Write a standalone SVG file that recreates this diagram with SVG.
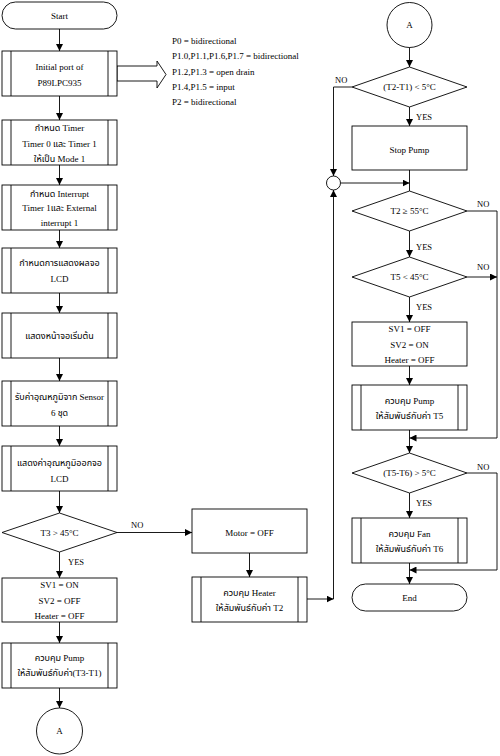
<svg xmlns="http://www.w3.org/2000/svg" width="500" height="756" viewBox="0 0 500 756">
<style>
.s{fill:#fff;stroke:#000;stroke-width:0.9}
.l{fill:none;stroke:#000;stroke-width:0.9}
.t{font-family:"Liberation Serif","Noto Sans Thai","Noto Serif Thai","DejaVu Sans",serif;font-size:9px;fill:#000;text-anchor:middle;dominant-baseline:central}
.p{font-family:"Liberation Serif","DejaVu Serif",serif;font-size:9px;fill:#000}
.lb{font-family:"Liberation Serif",serif;font-size:8.5px;fill:#000}
</style>
<defs>
<marker id="ah" viewBox="0 0 10 10" refX="10" refY="5" markerWidth="7" markerHeight="7" markerUnits="userSpaceOnUse" orient="auto">
<path d="M0,0 L10,5 L0,10 z" fill="#000"/>
</marker>
</defs>
<rect width="500" height="756" fill="#fff"/>

<g id="connectors">
<path class="l" d="M59.5,29 V51" marker-end="url(#ah)"/>
<path class="l" d="M59.5,96 V120" marker-end="url(#ah)"/>
<path class="l" d="M59.5,165 V185" marker-end="url(#ah)"/>
<path class="l" d="M59.5,230 V248" marker-end="url(#ah)"/>
<path class="l" d="M59.5,293 V313" marker-end="url(#ah)"/>
<path class="l" d="M59.5,358 V381" marker-end="url(#ah)"/>
<path class="l" d="M59.5,426 V446" marker-end="url(#ah)"/>
<path class="l" d="M59.5,491 V513" marker-end="url(#ah)"/>
<path class="l" d="M59.5,552 V578" marker-end="url(#ah)"/>
<path class="l" d="M59.5,622 V643" marker-end="url(#ah)"/>
<path class="l" d="M59.5,688 V708" marker-end="url(#ah)"/>
<path class="l" d="M117,532.5 H192" marker-end="url(#ah)"/>
<path class="l" d="M249.5,553 V577" marker-end="url(#ah)"/>
<path class="l" d="M307,599 H333.5" marker-end="url(#ah)"/>
<path class="l" d="M333.5,599 V190" marker-end="url(#ah)"/>
<path class="l" d="M352,87 H333.5 V176" marker-end="url(#ah)"/>
<path class="l" d="M341,183 H409.5" marker-end="url(#ah)"/>
<path class="l" d="M409.5,47 V67" marker-end="url(#ah)"/>
<path class="l" d="M409.5,107 V126" marker-end="url(#ah)"/>
<path class="l" d="M409.5,170 V191"/>
<path class="l" d="M409.5,231 V257" marker-end="url(#ah)"/>
<path class="l" d="M409.5,297 V322" marker-end="url(#ah)"/>
<path class="l" d="M409.5,366 V385" marker-end="url(#ah)"/>
<path class="l" d="M409.5,430 V453" marker-end="url(#ah)"/>
<path class="l" d="M467,211 H497 V438 H409.5" marker-end="url(#ah)"/>
<path class="l" d="M467,277 H497" marker-end="url(#ah)"/>
<path class="l" d="M409.5,493 V518" marker-end="url(#ah)"/>
<path class="l" d="M467,473 H497 V570 H409.5" marker-end="url(#ah)"/>
<path class="l" d="M409.5,563 V584" marker-end="url(#ah)"/>
<path class="s" d="M117,66 H157 V61 L166,74.5 L157,88 V81 H117 z"/>
<text class="lb" x="131" y="528">NO</text>
<text class="lb" x="68" y="565">YES</text>
<text class="lb" x="335" y="83">NO</text>
<text class="lb" x="416" y="120">YES</text>
<text class="lb" x="477" y="207">NO</text>
<text class="lb" x="416" y="250">YES</text>
<text class="lb" x="477" y="270">NO</text>
<text class="lb" x="416" y="310">YES</text>
<text class="lb" x="477" y="470">NO</text>
<text class="lb" x="416" y="506">YES</text>
</g>

<g id="portinfo">
<text class="p" x="172" y="44">P0 = bidirectional</text>
<text class="p" x="172" y="59">P1.0,P1.1,P1.6,P1.7 = bidirectional</text>
<text class="p" x="172" y="75">P1.2,P1.3 = open drain</text>
<text class="p" x="172" y="90">P1.4,P1.5 = input</text>
<text class="p" x="172" y="105">P2 = bidirectional</text>
</g>

<g id="start">
<rect class="s" x="2" y="2" width="115" height="27" rx="13.5"/>
<text class="t" x="59.5" y="16">Start</text>
</g>
<g id="initport">
<rect class="s" x="2" y="51" width="115" height="45"/>
<path class="l" d="M11,51 V96 M108,51 V96"/>
<text class="t" x="59.5" y="67">Initial port of</text>
<text class="t" x="59.5" y="83">P89LPC935</text>
</g>
<g id="timer">
<rect class="s" x="2" y="120" width="115" height="45"/>
<path class="l" d="M11,120 V165 M108,120 V165"/>
<text class="t" x="59.5" y="128">กำหนด Timer</text>
<text class="t" x="59.5" y="144">Timer 0 และ Timer 1</text>
<text class="t" x="59.5" y="159">ให้เป็น Mode 1</text>
</g>
<g id="interrupt">
<rect class="s" x="2" y="185" width="115" height="45"/>
<path class="l" d="M11,185 V230 M108,185 V230"/>
<text class="t" x="59.5" y="194">กำหนด Interrupt</text>
<text class="t" x="59.5" y="208">Timer 1และ External</text>
<text class="t" x="59.5" y="223">interrupt 1</text>
</g>
<g id="lcdset">
<rect class="s" x="2" y="248" width="115" height="45"/>
<path class="l" d="M11,248 V293 M108,248 V293"/>
<text class="t" x="59.5" y="263">กำหนดการแสดงผลจอ</text>
<text class="t" x="59.5" y="279">LCD</text>
</g>
<g id="startscreen">
<rect class="s" x="2" y="313" width="115" height="45"/>
<path class="l" d="M11,313 V358 M108,313 V358"/>
<text class="t" x="59.5" y="336">แสดงหน้าจอเริ่มต้น</text>
</g>
<g id="sensor">
<rect class="s" x="2" y="381" width="115" height="45"/>
<path class="l" d="M11,381 V426 M108,381 V426"/>
<text class="t" x="59.5" y="397">รับค่าอุณหภูมิจาก Sensor</text>
<text class="t" x="59.5" y="413">6 ชุด</text>
</g>
<g id="display">
<rect class="s" x="2" y="446" width="115" height="45"/>
<path class="l" d="M11,446 V491 M108,446 V491"/>
<text class="t" x="59.5" y="463">แสดงค่าอุณหภูมิออกจอ</text>
<text class="t" x="59.5" y="479">LCD</text>
</g>
<g id="t3check">
<path class="s" d="M59.5,513 L117,532.5 L59.5,552 L2,532.5 z"/>
<text class="t" x="59.5" y="533">T3 &gt; 45°C</text>
</g>
<g id="sv-on">
<rect class="s" x="2" y="578" width="115" height="44"/>
<text class="t" x="59.5" y="585">SV1 = ON</text>
<text class="t" x="59.5" y="601">SV2 = OFF</text>
<text class="t" x="59.5" y="616">Heater = OFF</text>
</g>
<g id="pump1">
<rect class="s" x="2" y="643" width="115" height="45"/>
<path class="l" d="M11,643 V688 M108,643 V688"/>
<text class="t" x="59.5" y="658">ควบคุม Pump</text>
<text class="t" x="59.5" y="673">ให้สัมพันธ์กับค่า(T3-T1)</text>
</g>
<g id="connA1">
<circle class="s" cx="59.5" cy="731" r="23"/>
<text class="t" x="59.5" y="731">A</text>
</g>
<g id="motor">
<rect class="s" x="192" y="509" width="115" height="44"/>
<text class="t" x="249.5" y="533">Motor = OFF</text>
</g>
<g id="heater">
<rect class="s" x="192" y="577" width="115" height="45"/>
<path class="l" d="M201,577 V622 M298,577 V622"/>
<text class="t" x="249.5" y="593">ควบคุม Heater</text>
<text class="t" x="249.5" y="608">ให้สัมพันธ์กับค่า T2</text>
</g>
<g id="connA2">
<circle class="s" cx="409.5" cy="25" r="22.5"/>
<text class="t" x="409.5" y="25">A</text>
</g>
<g id="t2t1check">
<path class="s" d="M409.5,67 L467,87 L409.5,107 L352,87 z"/>
<text class="t" x="409.5" y="87">(T2-T1) &lt; 5°C</text>
</g>
<g id="stoppump">
<rect class="s" x="352" y="126" width="115" height="44"/>
<text class="t" x="409.5" y="150">Stop Pump</text>
</g>
<g id="merge">
<circle class="s" cx="333.5" cy="183" r="7"/>
</g>
<g id="t2check">
<path class="s" d="M409.5,191 L467,211 L409.5,231 L352,211 z"/>
<text class="t" x="409.5" y="211">T2 ≥ 55°C</text>
</g>
<g id="t5check">
<path class="s" d="M409.5,257 L467,277 L409.5,297 L352,277 z"/>
<text class="t" x="409.5" y="277">T5 &lt; 45°C</text>
</g>
<g id="sv-off">
<rect class="s" x="352" y="322" width="115" height="44"/>
<text class="t" x="409.5" y="329">SV1 = OFF</text>
<text class="t" x="409.5" y="345">SV2 = ON</text>
<text class="t" x="409.5" y="360">Heater = OFF</text>
</g>
<g id="pump2">
<rect class="s" x="352" y="385" width="115" height="45"/>
<path class="l" d="M361,385 V430 M458,385 V430"/>
<text class="t" x="409.5" y="401">ควบคุม Pump</text>
<text class="t" x="409.5" y="416">ให้สัมพันธ์กับค่า T5</text>
</g>
<g id="t5t6check">
<path class="s" d="M409.5,453 L467,473 L409.5,493 L352,473 z"/>
<text class="t" x="409.5" y="473">(T5-T6) &gt; 5°C</text>
</g>
<g id="fan">
<rect class="s" x="352" y="518" width="115" height="45"/>
<path class="l" d="M361,518 V563 M458,518 V563"/>
<text class="t" x="409.5" y="534">ควบคุม Fan</text>
<text class="t" x="409.5" y="549">ให้สัมพันธ์กับค่า T6</text>
</g>
<g id="end">
<rect class="s" x="352" y="584" width="115" height="27" rx="13.5"/>
<text class="t" x="409.5" y="598">End</text>
</g>
</svg>
